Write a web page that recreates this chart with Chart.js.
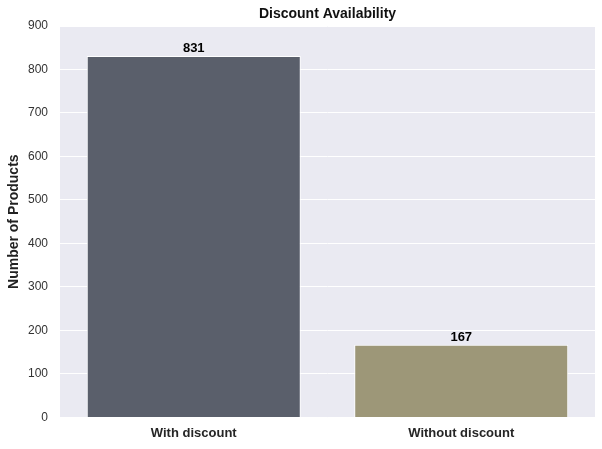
<!DOCTYPE html>
<html>
<head>
<meta charset="utf-8">
<script src="https://cdn.jsdelivr.net/npm/chart.js@4"></script>
<style>
  html, body { margin: 0; padding: 0; background: #fff; }
  #wrap { width: 602px; height: 449px; }
</style>
</head>
<body>
<div id="wrap"><canvas id="grafico"></canvas></div>
<script>
const categorias = ['With discount', 'Without discount'];
const produtos = [831, 167];
const cores = ['#5A5F6B', '#9D9778'];
const titulo = 'Discount Availability';

const fonte = '"Liberation Sans", Arial, sans-serif';

// fundo cinza do seaborn + titulo centrado na area do grafico
const fundo = {
    id: 'fundo',
    beforeDraw(chart) {
        const { ctx, chartArea: a } = chart;
        ctx.save();
        ctx.fillStyle = '#EAEAF2';
        ctx.fillRect(a.left, a.top, a.right - a.left, a.bottom - a.top);
        ctx.font = 'bold 14px ' + fonte;
        ctx.fillStyle = '#111';
        ctx.textAlign = 'center';
        ctx.textBaseline = 'middle';
        ctx.fillText(titulo, (a.left + a.right) / 2, 14);
        ctx.restore();
    }
};

// numeros em cima das barras
const rotulos = {
    id: 'rotulos',
    afterDatasetsDraw(chart) {
        const { ctx } = chart;
        const meta = chart.getDatasetMeta(0);
        ctx.save();
        ctx.font = 'bold 13px ' + fonte;
        ctx.fillStyle = '#000';
        ctx.textAlign = 'center';
        ctx.textBaseline = 'bottom';
        meta.data.forEach((bar, i) => {
            ctx.fillText(produtos[i], bar.x, bar.y - 1);
        });
        ctx.restore();
    }
};

new Chart(document.getElementById('grafico'), {
    type: 'bar',
    data: {
        labels: categorias,
        datasets: [{
            data: produtos,
            backgroundColor: cores,
            borderColor: '#FFFFFF',
            borderWidth: 1,
            categoryPercentage: 1,
            barPercentage: 0.8
        }]
    },
    options: {
        responsive: true,
        maintainAspectRatio: false,
        animation: false,
        layout: { padding: { left: 6, right: 7, top: 26, bottom: 0 } },
        plugins: {
            legend: { display: false },
            tooltip: { enabled: false },
            title: { display: false }
        },
        scales: {
            x: {
                grid: { display: false, drawTicks: false },
                border: { display: false },
                ticks: {
                    color: '#262626',
                    padding: 8,
                    font: { family: fonte, size: 13, weight: 'bold' }
                }
            },
            y: {
                min: 0,
                max: 900,
                afterFit(scale) { scale.width = 54; },
                grid: { color: '#FFFFFF', lineWidth: 1, drawTicks: false },
                border: { display: false },
                ticks: {
                    stepSize: 100,
                    color: '#333',
                    padding: 12,
                    font: { family: fonte, size: 12 }
                },
                title: {
                    display: true,
                    text: 'Number of Products',
                    color: '#222',
                    font: { family: fonte, size: 14, weight: 'bold' },
                    padding: { top: 0, bottom: 0 }
                }
            }
        }
    },
    plugins: [fundo, rotulos]
});
</script>
</body>
</html>
